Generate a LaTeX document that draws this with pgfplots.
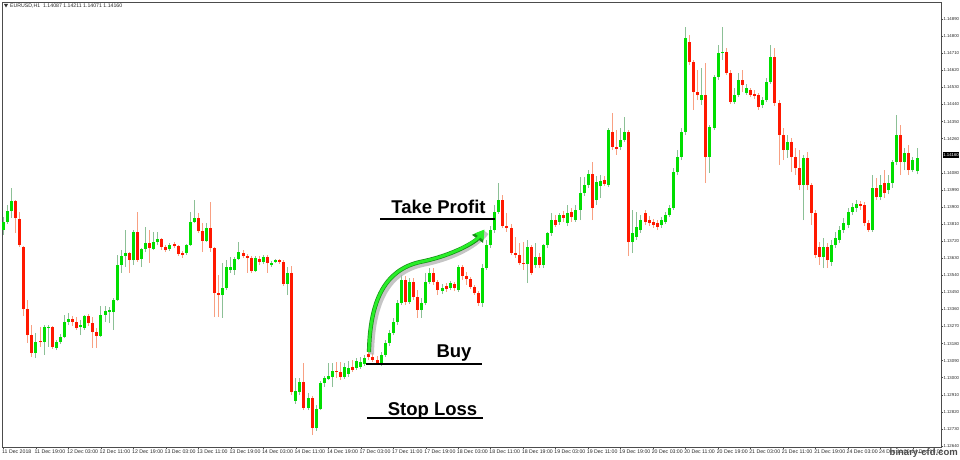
\documentclass[border=0pt]{standalone}
\usepackage{fontspec}
\setmainfont{Liberation Sans}
\usepackage{pgfplots}
\usepackage{pgfplotstable}
\pgfplotsset{compat=1.18}
\usetikzlibrary{arrows.meta}
\definecolor{bodyG}{RGB}{0,222,0}
\definecolor{bodyR}{RGB}{255,24,0}
\definecolor{wickG}{RGB}{140,192,150}
\definecolor{wickR}{RGB}{248,160,130}
\definecolor{arrowG}{RGB}{40,238,40}

\pgfplotstableread{
i o h l c
1 1.13778 1.13847 1.13752 1.13821
2 1.13821 1.13910 1.13810 1.13878
3 1.13878 1.14000 1.13842 1.13931
9 1.13130 1.13236 1.13104 1.13188
11 1.13188 1.13278 1.13120 1.13267
12 1.13262 1.13278 1.13162 1.13267
14 1.13157 1.13199 1.13146 1.13188
15 1.13188 1.13231 1.13178 1.13215
16 1.13215 1.13331 1.13209 1.13294
17 1.13294 1.13341 1.13278 1.13310
20 1.13267 1.13304 1.13225 1.13278
21 1.13262 1.13331 1.13252 1.13325
25 1.13220 1.13378 1.13215 1.13331
26 1.13331 1.13378 1.13294 1.13352
27 1.13346 1.13373 1.13288 1.13357
28 1.13346 1.13420 1.13252 1.13410
29 1.13410 1.13647 1.13404 1.13594
30 1.13594 1.13673 1.13552 1.13641
31 1.13641 1.13778 1.13583 1.13657
33 1.13620 1.13778 1.13594 1.13768
35 1.13626 1.13684 1.13583 1.13678
36 1.13678 1.13794 1.13662 1.13710
38 1.13678 1.13768 1.13673 1.13715
39 1.13715 1.13768 1.13699 1.13731
42 1.13678 1.13710 1.13668 1.13699
46 1.13657 1.13705 1.13647 1.13699
47 1.13699 1.13873 1.13694 1.13821
48 1.13821 1.13936 1.13815 1.13842
51 1.13720 1.13815 1.13715 1.13789
55 1.13436 1.13605 1.13315 1.13473
56 1.13473 1.13620 1.13462 1.13583
57 1.13568 1.13636 1.13552 1.13583
58 1.13568 1.13636 1.13541 1.13626
59 1.13626 1.13715 1.13620 1.13662
63 1.13562 1.13641 1.13557 1.13631
65 1.13610 1.13647 1.13599 1.13636
67 1.13594 1.13615 1.13583 1.13605
68 1.13610 1.13626 1.13605 1.13620
71 1.13494 1.13583 1.13436 1.13552
73 1.12878 1.12999 1.12862 1.12930
74 1.12925 1.12999 1.12909 1.12978
76 1.12841 1.12920 1.12830 1.12893
78 1.12735 1.12856 1.12720 1.12835
79 1.12835 1.12983 1.12830 1.12972
80 1.12972 1.13009 1.12951 1.12999
81 1.12993 1.13078 1.12988 1.13009
82 1.13004 1.13078 1.12951 1.13036
85 1.13004 1.13078 1.12993 1.13057
86 1.13020 1.13088 1.13004 1.13051
88 1.13051 1.13104 1.13041 1.13088
89 1.13057 1.13109 1.13046 1.13083
90 1.13072 1.13120 1.13062 1.13104
94 1.13078 1.13136 1.13062 1.13120
95 1.13120 1.13199 1.13109 1.13183
96 1.13183 1.13252 1.13167 1.13236
97 1.13236 1.13315 1.13225 1.13294
98 1.13294 1.13410 1.13278 1.13394
99 1.13394 1.13541 1.13383 1.13515
101 1.13399 1.13526 1.13389 1.13504
104 1.13357 1.13420 1.13315 1.13394
105 1.13394 1.13552 1.13383 1.13504
106 1.13504 1.13578 1.13494 1.13552
109 1.13457 1.13494 1.13441 1.13473
111 1.13473 1.13510 1.13462 1.13499
113 1.13462 1.13594 1.13452 1.13583
119 1.13394 1.13599 1.13373 1.13578
120 1.13578 1.13726 1.13568 1.13699
121 1.13699 1.13799 1.13684 1.13778
122 1.13778 1.13910 1.13763 1.13873
123 1.13873 1.14026 1.13863 1.13936
130 1.13599 1.13726 1.13499 1.13689
132 1.13594 1.13710 1.13578 1.13636
134 1.13594 1.13705 1.13578 1.13699
135 1.13699 1.13768 1.13684 1.13763
136 1.13763 1.13868 1.13747 1.13831
138 1.13821 1.13868 1.13805 1.13857
140 1.13815 1.13910 1.13799 1.13868
142 1.13831 1.13910 1.13821 1.13884
143 1.13884 1.14058 1.13831 1.13973
144 1.13973 1.14058 1.13957 1.14015
145 1.14015 1.14094 1.14000 1.14073
147 1.13936 1.14063 1.13910 1.14031
148 1.14010 1.14068 1.13947 1.14037
150 1.14015 1.14316 1.14005 1.14305
153 1.14216 1.14316 1.14200 1.14253
154 1.14253 1.14374 1.14242 1.14295
156 1.13715 1.13884 1.13657 1.13763
157 1.13742 1.13873 1.13726 1.13794
158 1.13778 1.13857 1.13763 1.13831
163 1.13805 1.13847 1.13789 1.13831
164 1.13821 1.13873 1.13810 1.13857
165 1.13857 1.13910 1.13847 1.13894
166 1.13894 1.14105 1.13884 1.14084
167 1.14084 1.14200 1.14068 1.14163
168 1.14163 1.14316 1.14147 1.14295
169 1.14295 1.14848 1.14279 1.14790
173 1.14463 1.14632 1.14437 1.14490
175 1.14163 1.14332 1.14079 1.14321
176 1.14316 1.14595 1.14305 1.14584
177 1.14584 1.14753 1.14569 1.14711
178 1.14711 1.14848 1.14674 1.14716
181 1.14453 1.14526 1.14442 1.14490
182 1.14490 1.14605 1.14479 1.14569
184 1.14500 1.14547 1.14490 1.14526
188 1.14437 1.14479 1.14421 1.14463
189 1.14463 1.14579 1.14453 1.14558
190 1.14558 1.14753 1.14548 1.14690
194 1.14200 1.14279 1.14158 1.14242
198 1.14015 1.14174 1.13831 1.14158
203 1.13636 1.13736 1.13578 1.13689
205 1.13610 1.13726 1.13589 1.13699
206 1.13699 1.13768 1.13684 1.13736
207 1.13726 1.13799 1.13710 1.13778
208 1.13778 1.13842 1.13763 1.13815
209 1.13805 1.13894 1.13789 1.13873
210 1.13873 1.13921 1.13857 1.13900
211 1.13894 1.13936 1.13873 1.13915
215 1.13778 1.14068 1.13768 1.14000
217 1.13952 1.14068 1.13936 1.14015
219 1.13989 1.14068 1.13968 1.14026
220 1.14026 1.14147 1.14000 1.14137
221 1.14137 1.14384 1.14121 1.14279
223 1.14137 1.14210 1.14094 1.14184
225 1.14094 1.14163 1.14084 1.14147
226 1.14087 1.14211 1.14071 1.14160
}\bull

\pgfplotstableread{
i o h l c
4 1.13931 1.13936 1.13763 1.13842
5 1.13836 1.13873 1.13689 1.13699
6 1.13689 1.13694 1.13325 1.13362
7 1.13362 1.13410 1.13183 1.13225
8 1.13225 1.13278 1.13109 1.13130
10 1.13194 1.13267 1.13162 1.13188
13 1.13267 1.13273 1.13151 1.13162
18 1.13310 1.13325 1.13273 1.13294
19 1.13294 1.13320 1.13252 1.13262
22 1.13325 1.13336 1.13273 1.13288
23 1.13288 1.13320 1.13157 1.13241
24 1.13241 1.13262 1.13157 1.13220
32 1.13657 1.13662 1.13552 1.13620
34 1.13768 1.13873 1.13610 1.13620
37 1.13710 1.13778 1.13605 1.13684
40 1.13731 1.13736 1.13673 1.13689
41 1.13689 1.13699 1.13662 1.13673
43 1.13705 1.13715 1.13684 1.13694
44 1.13694 1.13699 1.13641 1.13652
45 1.13657 1.13668 1.13631 1.13647
49 1.13842 1.13868 1.13763 1.13773
50 1.13773 1.13815 1.13662 1.13720
52 1.13789 1.13926 1.13662 1.13684
53 1.13684 1.13689 1.13320 1.13446
54 1.13446 1.13541 1.13320 1.13436
60 1.13657 1.13673 1.13631 1.13641
61 1.13641 1.13652 1.13552 1.13631
62 1.13631 1.13641 1.13552 1.13562
64 1.13626 1.13641 1.13594 1.13610
66 1.13636 1.13647 1.13552 1.13605
69 1.13620 1.13626 1.13599 1.13610
70 1.13610 1.13620 1.13483 1.13494
72 1.13552 1.13589 1.12909 1.12925
75 1.12978 1.13078 1.12830 1.12841
77 1.12893 1.12904 1.12698 1.12735
83 1.13036 1.13083 1.12999 1.13030
84 1.13030 1.13083 1.12988 1.13004
87 1.13057 1.13094 1.13030 1.13041
91 1.13125 1.13146 1.13094 1.13109
92 1.13109 1.13130 1.13083 1.13094
93 1.13094 1.13115 1.13067 1.13078
100 1.13515 1.13536 1.13383 1.13399
102 1.13504 1.13526 1.13410 1.13425
103 1.13425 1.13462 1.13315 1.13357
107 1.13552 1.13578 1.13489 1.13504
108 1.13504 1.13515 1.13436 1.13462
110 1.13483 1.13499 1.13452 1.13468
112 1.13494 1.13504 1.13457 1.13473
114 1.13583 1.13594 1.13515 1.13536
115 1.13536 1.13557 1.13489 1.13520
116 1.13520 1.13531 1.13468 1.13478
117 1.13478 1.13489 1.13436 1.13446
118 1.13446 1.13457 1.13378 1.13394
124 1.13936 1.13963 1.13789 1.13799
125 1.13799 1.13868 1.13768 1.13789
126 1.13789 1.13810 1.13647 1.13657
127 1.13657 1.13742 1.13631 1.13647
128 1.13647 1.13710 1.13594 1.13605
129 1.13605 1.13715 1.13568 1.13599
131 1.13689 1.13699 1.13541 1.13552
133 1.13636 1.13657 1.13578 1.13594
137 1.13831 1.13857 1.13794 1.13805
139 1.13857 1.13878 1.13821 1.13842
141 1.13873 1.13894 1.13821 1.13847
146 1.14073 1.14137 1.13831 1.13894
149 1.14042 1.14063 1.14010 1.14021
151 1.14295 1.14395 1.14200 1.14216
152 1.14216 1.14305 1.14174 1.14205
155 1.14295 1.14305 1.13641 1.13715
159 1.13868 1.13884 1.13805 1.13821
160 1.13831 1.13852 1.13799 1.13815
161 1.13821 1.13836 1.13789 1.13805
162 1.13815 1.13831 1.13778 1.13794
170 1.14769 1.14806 1.14648 1.14663
171 1.14663 1.14674 1.14411 1.14505
172 1.14505 1.14621 1.14463 1.14490
174 1.14490 1.14658 1.14026 1.14163
179 1.14716 1.14737 1.14595 1.14605
180 1.14605 1.14621 1.14442 1.14453
183 1.14569 1.14621 1.14505 1.14542
185 1.14516 1.14526 1.14479 1.14490
186 1.14495 1.14516 1.14469 1.14484
187 1.14490 1.14500 1.14411 1.14426
191 1.14690 1.14737 1.14432 1.14447
192 1.14447 1.14463 1.14121 1.14279
193 1.14279 1.14316 1.14147 1.14200
195 1.14242 1.14263 1.14084 1.14163
196 1.14163 1.14210 1.14068 1.14105
197 1.14105 1.14200 1.13989 1.14015
199 1.14158 1.14189 1.13989 1.14015
200 1.14015 1.14026 1.13805 1.13868
201 1.13868 1.13884 1.13631 1.13647
202 1.13689 1.13715 1.13594 1.13636
204 1.13689 1.13710 1.13578 1.13620
212 1.13915 1.13931 1.13884 1.13905
213 1.13910 1.13926 1.13799 1.13815
214 1.13815 1.13831 1.13768 1.13778
216 1.14000 1.14052 1.13936 1.13952
218 1.14026 1.14094 1.13947 1.13973
222 1.14279 1.14332 1.14068 1.14137
224 1.14184 1.14226 1.14068 1.14094
}\bear

\begin{document}
\begin{tikzpicture}[x=1pt,y=1pt]
\begin{axis}[
  at={(2pt,12pt)}, anchor=south west, scale only axis,
  width=939pt, height=445pt,
  xmin=0.63, xmax=231.9, ymin=1.12635, ymax=1.14980,
  axis line style={draw=gray!60!black, line width=0.6pt},
  xtick={1,9,...,225},
  xticklabels={11 Dec 2018,11 Dec 19:00,12 Dec 03:00,12 Dec 11:00,12 Dec 19:00,13 Dec 03:00,13 Dec 11:00,13 Dec 19:00,14 Dec 03:00,14 Dec 11:00,14 Dec 19:00,17 Dec 03:00,17 Dec 11:00,17 Dec 19:00,18 Dec 03:00,18 Dec 11:00,18 Dec 19:00,19 Dec 03:00,19 Dec 11:00,19 Dec 19:00,20 Dec 03:00,20 Dec 11:00,20 Dec 19:00,21 Dec 03:00,21 Dec 11:00,21 Dec 19:00,24 Dec 03:00,24 Dec 11:00,24 Dec 19:00},
  ytick={1.12640,1.12730,1.12820,1.12910,1.13000,1.13090,1.13180,1.13270,1.13360,1.13450,1.13540,1.13630,1.13720,1.13810,1.13900,1.13990,1.14080,1.14260,1.14350,1.14440,1.14530,1.14620,1.14710,1.14800,1.14890},
  yticklabels={1.12640,1.12730,1.12820,1.12910,1.13000,1.13090,1.13180,1.13270,1.13360,1.13450,1.13540,1.13630,1.13720,1.13810,1.13900,1.13990,1.14080,1.14260,1.14350,1.14440,1.14530,1.14620,1.14710,1.14800,1.14890},
  scaled y ticks=false,
  xtick pos=left, ytick pos=right, yticklabel pos=right,
  tick align=outside, major tick length=2pt,
  tick style={draw=gray!60!black, line width=0.5pt},
  x tick label style={font=\fontsize{5.2}{6}\selectfont, anchor=north west, xshift=-2.5pt, inner sep=1pt, text=black!85},
  y tick label style={font=\fontsize{4.3}{5}\selectfont, anchor=west, inner sep=0.3pt, text=black!85},
  /pgf/number format/assume math mode=true,
]
% wicks
\addplot[draw=none, mark=none, forget plot,
  error bars/.cd, y dir=plus, y explicit, error mark=none,
  error bar style={line width=1pt, draw=wickG, solid}]
  table[x=i, y=l, y error plus expr=\thisrow{h}-\thisrow{l}] {\bull};
\addplot[draw=none, mark=none, forget plot,
  error bars/.cd, y dir=plus, y explicit, error mark=none,
  error bar style={line width=1pt, draw=wickR, solid}]
  table[x=i, y=l, y error plus expr=\thisrow{h}-\thisrow{l}] {\bear};
% bodies
\addplot[draw=none, mark=none, forget plot,
  error bars/.cd, y dir=plus, y explicit, error mark=none,
  error bar style={line width=3pt, draw=bodyG, solid}]
  table[x=i, y=o, y error plus expr={max(\thisrow{c}-\thisrow{o},0.00002)}] {\bull};
\addplot[draw=none, mark=none, forget plot,
  error bars/.cd, y dir=plus, y explicit, error mark=none,
  error bar style={line width=3pt, draw=bodyR, solid}]
  table[x=i, y=c, y error plus expr={max(\thisrow{o}-\thisrow{c},0.00002)}] {\bear};
\end{axis}

% header
\fill[black!80] (4,455) -- (8,455) -- (6,451.5) -- cycle;
\node[anchor=west, inner sep=0pt, font=\fontsize{5.2}{6}\selectfont, text=black!85] at (10,453.3) {EURUSD,H1\ \ 1.14087 1.14211 1.14071 1.14160};

% current price box
\node[fill=black, text=white, inner xsep=0.6pt, inner ysep=1.3pt, anchor=west, font=\fontsize{4.3}{5}\selectfont] at (942.5,304) {1.14160};

% arrow with shadow
\begin{scope}[shift={(2.5,-2.5)}]
\draw[gray!60, line width=5pt, opacity=0.75] (369,107) .. controls (370,159) and (385,189) .. (420,197) .. controls (455,204) and (476,218) .. (484,229);
\end{scope}
\draw[arrowG!60!black, line width=4.2pt, -{Triangle[length=11pt,width=13pt]}] (369,107) .. controls (370,159) and (385,189) .. (420,197) .. controls (455,204) and (476,218) .. (484,229);
\draw[arrowG, line width=2.8pt, -{Triangle[length=9pt,width=10.5pt]}] (369,107) .. controls (370,159) and (385,189) .. (420,197) .. controls (455,204) and (476,218) .. (484.5,229.5);

% annotations
\node[anchor=base, inner sep=0pt, font=\bfseries\fontsize{18.5}{20}\selectfont] at (438.5,246) {Take Profit};
\draw[line width=1.2pt] (380,240) -- (495,240);
\node[anchor=base, inner sep=0pt, font=\bfseries\fontsize{18.5}{20}\selectfont] at (454,102) {Buy};
\draw[line width=1.2pt] (366,95) -- (482,95);
\node[anchor=base, inner sep=0pt, font=\bfseries\fontsize{18.5}{20}\selectfont] at (432.5,44) {Stop Loss};
\draw[line width=1.2pt] (367,41) -- (483,41);

% watermark
\node[anchor=east, inner sep=0pt, font=\bfseries\fontsize{9.5}{10}\selectfont, text=black!70] at (958,6) {binary-cfd.com};

\pgfresetboundingbox
\useasboundingbox (0,0) rectangle (960,459);
\end{tikzpicture}
\end{document}
